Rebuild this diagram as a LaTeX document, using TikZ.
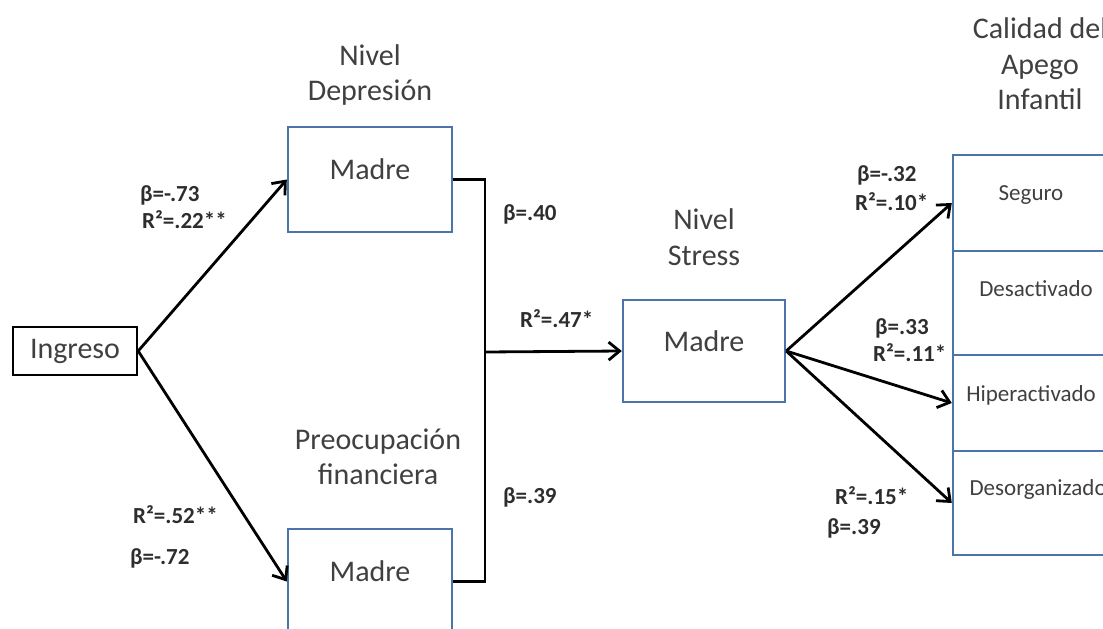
\documentclass[tikz,border=0pt]{standalone}
\usepackage{fontspec}
\setmainfont{Carlito}
\usetikzlibrary{arrows.meta}
\definecolor{boxblue}{RGB}{74,116,170}
\definecolor{txt}{RGB}{64,64,64}
\definecolor{lbl}{RGB}{45,45,45}
\begin{document}
\begin{tikzpicture}[x=1pt,y=-1pt,
  conn/.style={line width=2.8pt,black},
  arr/.style={conn,-{Straight Barb[length=11pt,width=18pt]}},
  bluebox/.style={draw=boxblue,line width=2.4pt,rectangle,inner sep=0pt,
    text=txt,font=\fontsize{30}{36}\selectfont,text height=15pt,text depth=15pt},
  cell/.style={draw=boxblue,line width=2.4pt,rectangle,inner sep=0pt,
    minimum width=156pt},
  celltext/.style={text=txt,font=\fontsize{23}{28}\selectfont},
  head/.style={align=center,text=txt,font=\fontsize{30}{35.5}\selectfont},
  lab/.style={anchor=west,inner sep=0pt,text=lbl,font=\bfseries\fontsize{23}{27}\selectfont,
    text height=16pt,text depth=5pt}]
\useasboundingbox (0,0) rectangle (1103,629);
% boxes
\node[draw=black,line width=2.4pt,rectangle,inner sep=0pt,minimum width=124pt,minimum height=48pt,
  text=txt,font=\fontsize{30}{36}\selectfont] (ingreso) at (75,351) {Ingreso};
\node[bluebox,minimum width=164pt,minimum height=105pt] (dep) at (370,179.5) {Madre};
\node[bluebox,minimum width=164pt,minimum height=105pt] (fin) at (370,581.5) {Madre};
\node[bluebox,minimum width=162pt,minimum height=102pt] (stress) at (704,351) {Madre};
\node[cell,minimum height=96pt] (seg) at (1031,203) {};
\node[cell,minimum height=104pt] (desa) at (1031,303) {};
\node[cell,minimum height=96pt] (hiper) at (1031,403) {};
\node[cell,minimum height=104pt] (deso) at (1031,503) {};
\node[celltext] (segT) at (1031,195) {Seguro};
\node[celltext] (desaT) at (1036,289) {Desactivado};
\node[celltext] (hiperT) at (1031,395) {Hiperactivado};
\node[celltext,anchor=west] (desoT) at (966,489) {Desorganizado};
% headers
\node[head] (depH) at (370,75) {Nivel\\Depresión};
\node[head] (finH) at (378,457) {Preocupación\\financiera};
\node[head] (strH) at (704,237) {Nivel\\Stress};
\node[head] (calH) at (1040,64) {Calidad del\\Apego\\Infantil};
% connectors
\coordinate (j) at (485,352);
\draw[arr] (ingreso.east) -- (dep.west);
\draw[arr] (ingreso.east) -- (fin.west);
\draw[conn] (dep.east) -| (j) |- (fin.east);
\draw[arr] (j) -- (stress.west);
\draw[arr] (stress.east) -- (seg.west);
\draw[arr] (stress.east) -- (hiper.west);
\draw[arr] (stress.east) -- (deso.west);
% labels
\node[lab] (l1) at (140,196) {β=-.73};
\node[lab] (l2) at (142,223) {R²=.22**};
\node[lab] (l3) at (133,518) {R²=.52**};
\node[lab] (l4) at (130,559) {β=-.72};
\node[lab] (l5) at (503,215) {β=.40};
\node[lab] (l6) at (520,322) {R²=.47*};
\node[lab] (l7) at (503,498) {β=.39};
\node[lab] (l8) at (857,176) {β=-.32};
\node[lab] (l9) at (855,205) {R²=.10*};
\node[lab] (l10) at (875,329) {β=.33};
\node[lab] (l11) at (873,356) {R²=.11*};
\node[lab] (l12) at (835,499) {R²=.15*};
\node[lab] (l13) at (827,529) {β=.39};
\end{tikzpicture}
\end{document}
